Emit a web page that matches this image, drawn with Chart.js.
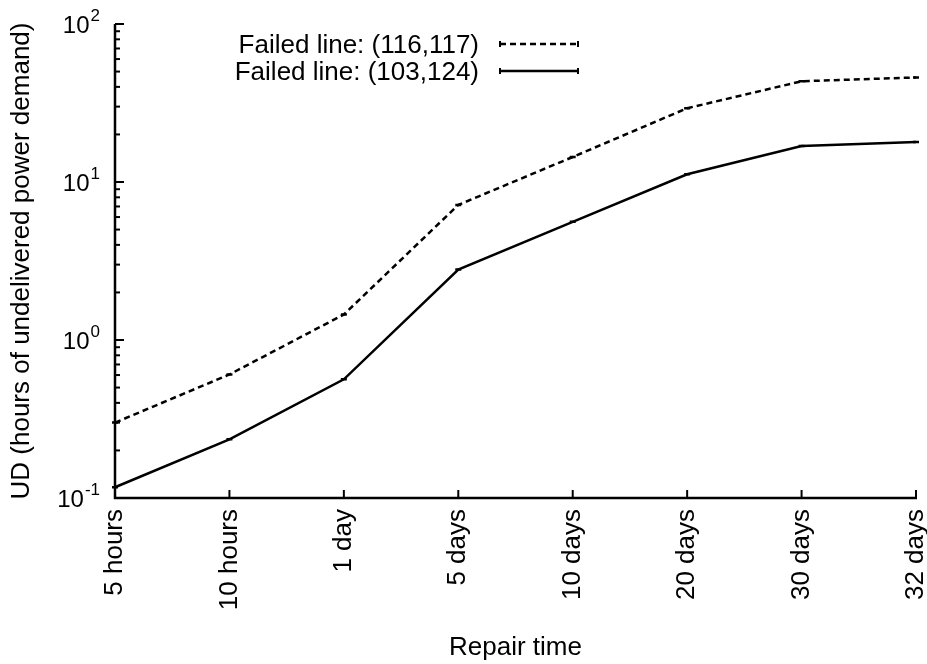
<!DOCTYPE html>
<html>
<head>
<meta charset="utf-8">
<title>UD vs repair time</title>
<script src="https://cdn.jsdelivr.net/npm/chart.js@4/dist/chart.umd.min.js"></script>
<style>
  html, body { margin: 0; padding: 0; background: #fff; }
  #wrap { width: 927px; height: 664px; }
</style>
</head>
<body>
<div id="wrap"><canvas id="chart" width="927" height="664"></canvas></div>
<script>
// Repair time categories
const repairTimes = ['5 hours', '10 hours', '1 day', '5 days', '10 days', '20 days', '30 days', '32 days'];

// Hours of undelivered power demand for each failed line
const line116_117 = [0.30, 0.605, 1.45, 7.16, 14.4, 29.3, 43.4, 45.9];
const line103_124 = [0.117, 0.235, 0.564, 2.79, 5.6, 11.2, 16.9, 17.9];

const seriesLabels = ['Failed line: (116,117)', 'Failed line: (103,124)'];

// Decade exponents labelled on the y axis
const yExponents = [-1, 0, 1, 2];

const FONT = '"Liberation Sans", Arial, Helvetica, sans-serif';

// Axes with inward ticks, log minor ticks, superscript decade labels and legend
const gnuplotStyle = {
  id: 'gnuplotStyle',
  afterDraw(chart) {
    const ctx = chart.ctx;
    const area = chart.chartArea;
    const xs = chart.scales.x;
    const ys = chart.scales.y;
    ctx.save();
    ctx.strokeStyle = '#000';
    ctx.fillStyle = '#000';
    ctx.lineWidth = 2.5;
    ctx.lineCap = 'butt';

    // axis lines
    ctx.beginPath();
    ctx.moveTo(area.left, area.top);
    ctx.lineTo(area.left, area.bottom);
    ctx.lineTo(area.right + 1, area.bottom);
    ctx.stroke();

    // y major + minor ticks
    ctx.lineWidth = 2;
    for (let e = -1; e <= 2; e++) {
      const y = ys.getPixelForValue(Math.pow(10, e));
      ctx.beginPath();
      ctx.moveTo(area.left, y);
      ctx.lineTo(area.left + 9, y);
      ctx.stroke();
      if (e < 2) {
        for (let m = 2; m <= 9; m++) {
          const ym = ys.getPixelForValue(m * Math.pow(10, e));
          ctx.beginPath();
          ctx.moveTo(area.left, ym);
          ctx.lineTo(area.left + 5, ym);
          ctx.stroke();
        }
      }
    }

    // x ticks
    repairTimes.forEach((_, i) => {
      const x = xs.getPixelForValue(i);
      ctx.beginPath();
      ctx.moveTo(x, area.bottom);
      ctx.lineTo(x, area.bottom - 8);
      ctx.stroke();
    });

    // y decade labels: 10 with raised exponent
    const labelRight = area.left - 15;
    yExponents.forEach(e => {
      const y = ys.getPixelForValue(Math.pow(10, e));
      const expText = String(e);
      ctx.font = '17px ' + FONT;
      const ew = ctx.measureText(expText).width;
      ctx.textAlign = 'left';
      ctx.textBaseline = 'alphabetic';
      ctx.fillText(expText, labelRight - ew, y - 3);
      ctx.font = '24px ' + FONT;
      ctx.textAlign = 'right';
      ctx.fillText('10', labelRight - ew - 1, y + 9);
    });

    // legend: text right-aligned, sample line to the right
    const rows = [
      { label: seriesLabels[0], y: 45, dash: [6, 4] },
      { label: seriesLabels[1], y: 72, dash: [] }
    ];
    ctx.font = '26px ' + FONT;
    rows.forEach(r => {
      ctx.textAlign = 'right';
      ctx.textBaseline = 'middle';
      ctx.fillText(r.label, 479, r.y + 1);
      ctx.lineWidth = 2.5;
      ctx.setLineDash(r.dash);
      ctx.beginPath();
      ctx.moveTo(500, r.y - 1);
      ctx.lineTo(578, r.y - 1);
      ctx.stroke();
      ctx.setLineDash([]);
      ctx.lineWidth = 2;
      [500, 578].forEach(cx => {
        ctx.beginPath();
        ctx.moveTo(cx, r.y - 4);
        ctx.lineTo(cx, r.y + 2);
        ctx.stroke();
      });
    });
    ctx.restore();
  }
};

new Chart(document.getElementById('chart'), {
  type: 'line',
  data: {
    labels: repairTimes,
    datasets: [
      {
        label: seriesLabels[0],
        data: line116_117,
        borderColor: '#000',
        backgroundColor: '#000',
        borderWidth: 2.5,
        borderDash: [6, 4],
        tension: 0,
        pointStyle: 'line',
        pointRadius: 3,
        pointBorderWidth: 2.5,
        pointBorderColor: '#000',
        fill: false
      },
      {
        label: seriesLabels[1],
        data: line103_124,
        borderColor: '#000',
        backgroundColor: '#000',
        borderWidth: 2.5,
        tension: 0,
        pointStyle: 'line',
        pointRadius: 3,
        pointBorderWidth: 2.5,
        pointBorderColor: '#000',
        fill: false
      }
    ]
  },
  options: {
    responsive: false,
    animation: false,
    layout: { padding: { top: 24, right: 11, left: 0, bottom: 0 } },
    plugins: {
      legend: { display: false },
      tooltip: { enabled: false }
    },
    scales: {
      x: {
        type: 'category',
        offset: false,
        grid: { display: false, drawTicks: false },
        border: { display: false },
        ticks: {
          color: '#000',
          font: { family: FONT, size: 26 },
          minRotation: 90,
          maxRotation: 90,
          autoSkip: false,
          padding: 11
        },
        title: {
          display: true,
          text: 'Repair time',
          color: '#000',
          font: { family: FONT, size: 26 },
          padding: { top: 4, bottom: 1 }
        },
        afterFit(scale) {
          scale.height = 166;
          scale.paddingLeft = 0;
          scale.paddingRight = 0;
        }
      },
      y: {
        type: 'logarithmic',
        min: 0.1,
        max: 100,
        grid: { display: false, drawTicks: false },
        border: { display: false },
        ticks: { display: false },
        title: {
          display: true,
          text: 'UD (hours of undelivered power demand)',
          color: '#000',
          font: { family: FONT, size: 26 },
          padding: { top: 6, bottom: 0 }
        },
        afterFit(scale) {
          scale.width = 115;
          scale.paddingTop = 0;
          scale.paddingBottom = 0;
        }
      }
    }
  },
  plugins: [gnuplotStyle]
});
</script>
</body>
</html>
